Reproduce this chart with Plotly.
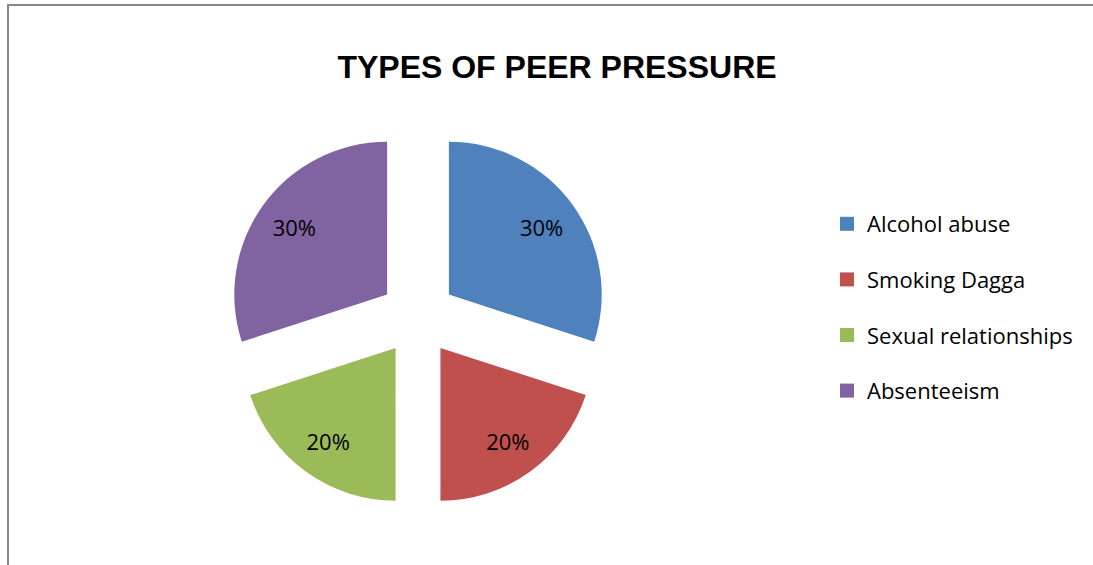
import plotly.graph_objects as go

labels = ["Alcohol abuse", "Smoking Dagga", "Sexual relationships", "Absenteeism"]
values = [30, 20, 20, 30]
colors = ["#4F81BD", "#C0504D", "#9BBB59", "#8064A2"]
title_text = "TYPES OF PEER PRESSURE"

W, H = 1093, 565
cx, cy, half = 418, 317, 191  # pie domain centre/half-size in px
dom = dict(x=[(cx - half) / W, (cx + half) / W],
           y=[(H - (cy + half)) / H, (H - (cy - half)) / H])
txt_font = "Open Sans, Carlito, Calibri, sans-serif"

fig = go.Figure()
# filled, exploded slices
fig.add_trace(go.Pie(
    labels=labels, values=values, sort=False, direction="clockwise", rotation=0,
    marker=dict(colors=colors, line=dict(width=0)),
    pull=[0.25] * len(values), textinfo="none",
    showlegend=False, hoverinfo="label+percent", domain=dom,
))
# transparent overlay used only to place the percentage labels further out
fig.add_trace(go.Pie(
    labels=labels, values=values, sort=False, direction="clockwise", rotation=0,
    marker=dict(colors=["rgba(0,0,0,0)"] * len(values), line=dict(width=0)),
    pull=[0.25] * len(values), hole=0.5,
    textinfo="percent", textposition="inside", insidetextorientation="horizontal",
    textfont=dict(family=txt_font, size=22, color="#000000"),
    showlegend=False, hoverinfo="skip", domain=dom,
))
for lab, col in zip(labels, colors):
    fig.add_trace(go.Scatter(
        x=[None], y=[None], mode="markers", name=lab, legendgroup=lab,
        marker=dict(symbol="square", size=14, color=col), showlegend=True,
    ))

border = dict(color="#878787", width=2)
fig.update_layout(
    width=W, height=H,
    margin=dict(l=0, r=0, t=0, b=0),
    paper_bgcolor="white", plot_bgcolor="white",
    xaxis=dict(visible=False), yaxis=dict(visible=False),
    title=dict(text=f"<b>{title_text}</b>", x=557 / W, xanchor="center",
               y=1 - 67 / H, yanchor="middle",
               font=dict(family="Arial, Liberation Sans, sans-serif", size=32, color="#000000")),
    legend=dict(x=827 / W, xanchor="left", y=1 - 203 / H, yanchor="top",
                font=dict(family=txt_font, size=22, color="#000000"),
                tracegroupgap=24, bgcolor="rgba(0,0,0,0)"),
    shapes=[
        dict(type="line", xref="paper", yref="paper",
             x0=8 / W, x1=8 / W, y0=0, y1=1 - 4 / H, line=border),
        dict(type="line", xref="paper", yref="paper",
             x0=7 / W, x1=1, y0=1 - 5 / H, y1=1 - 5 / H, line=border),
    ],
)

fig.write_html("out.html", config={"displayModeBar": False},
               post_script="document.body.style.margin='0';")
